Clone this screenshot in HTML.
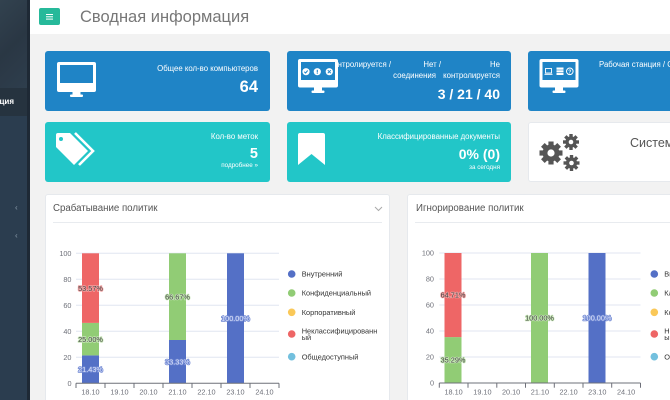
<!DOCTYPE html>
<html><head><meta charset="utf-8">
<style>
*{margin:0;padding:0;box-sizing:border-box}
html,body{width:670px;height:400px;overflow:hidden;background:#f2f2f2;font-family:"Liberation Sans","Noto Sans CJK SC",sans-serif}
#root{position:relative;width:670px;height:400px;overflow:hidden}
.a{position:absolute;white-space:nowrap;line-height:1}
.card{position:absolute;border-radius:3px}
.blue{background:#1f84c6}
.teal{background:#22c6c8}
.w{color:#fff}
.r{text-align:right}
</style></head><body><div id="root">
<!-- sidebar -->
<div class="a" style="left:0;top:0;width:27px;height:400px;background:#2b3d4f"></div>
<div class="a" style="left:0;top:0;width:27px;height:88px;background:linear-gradient(135deg,#32424f 0%,#2a3744 50%,#2e3e4d 100%)"></div>
<div class="a" style="left:0;top:88px;width:27px;height:28px;background:#26333f"></div>
<div class="a" style="left:27px;top:0;width:3px;height:400px;background:#1e2935"></div>
<div class="a" style="left:0;top:98px;width:27px;height:12px;overflow:hidden"><div class="a w" style="right:13px;top:0;font-size:8px;font-weight:bold">ация</div></div>
<div class="a" style="left:15px;top:204px;font-size:8px;color:#8a9aab">‹</div>
<div class="a" style="left:15px;top:232px;font-size:8px;color:#8a9aab">‹</div>
<!-- header -->
<div class="a" style="left:30px;top:0;width:640px;height:34px;background:#fff"></div>
<div class="a" style="left:39px;top:8px;width:21px;height:17px;background:#26b99a;border-radius:2px"></div>
<div class="a" style="left:46px;top:13.5px;width:7px;height:1.3px;background:#fff;box-shadow:0 2.3px 0 #fff,0 4.6px 0 #fff"></div>
<div class="a" style="left:80px;top:9px;font-size:16.5px;color:#777">Сводная информация</div>

<!-- cards row 1 -->
<div class="card blue" style="left:45px;top:51px;width:225px;height:60px"></div>
<div class="card blue" style="left:287px;top:51px;width:224px;height:60px"></div>
<div class="card blue" style="left:528px;top:51px;width:142px;height:60px;border-radius:3px 0 0 3px"></div>
<!-- cards row 2 -->
<div class="card teal" style="left:45px;top:122px;width:225px;height:60px"></div>
<div class="card teal" style="left:287px;top:122px;width:224px;height:60px"></div>
<div class="card" style="left:528px;top:122px;width:142px;height:60px;background:#fff;border:1px solid #e6e9ed;border-right:none;border-radius:3px 0 0 3px"></div>

<!-- card texts -->
<div class="a w r" style="right:412px;top:64.5px;font-size:7.8px">Общее кол-во компьютеров</div>
<div class="a w r" style="right:412px;top:79px;font-size:16.5px;font-weight:bold">64</div>

<div class="a w r" style="right:279px;top:60.5px;font-size:7.8px">Контролируется /</div>
<div class="a w r" style="right:229px;top:60.5px;font-size:7.8px">Нет /</div>
<div class="a w r" style="right:170px;top:60.5px;font-size:7.8px">Не</div>
<div class="a w r" style="right:234px;top:71.5px;font-size:7.8px">соединения</div>
<div class="a w r" style="right:170px;top:71.5px;font-size:7.8px">контролируется</div>
<div class="a w r" style="right:170px;top:86.5px;font-size:14px;font-weight:bold">3 / 21 / 40</div>

<div class="a" style="left:590px;top:58px;width:80px;height:14px;overflow:hidden"><div class="a w" style="left:9px;top:2.5px;font-size:7.8px">Рабочая станция / Сервер</div></div>

<div class="a w r" style="right:412px;top:133px;font-size:7.8px">Кол-во меток</div>
<div class="a w r" style="right:412px;top:147px;font-size:14.5px;font-weight:bold">5</div>
<div class="a w r" style="right:412px;top:162.5px;font-size:6.3px">подробнее »</div>

<div class="a w r" style="right:170px;top:133px;font-size:7.8px">Классифицированные документы</div>
<div class="a w r" style="right:170px;top:147px;font-size:14px;font-weight:bold">0% (0)</div>
<div class="a w r" style="right:170px;top:164.5px;font-size:6.3px">за сегодня</div>

<div class="a" style="left:620px;top:134px;width:50px;height:18px;overflow:hidden"><div class="a" style="left:10px;top:2.5px;font-size:12.5px;color:#555">Системная информация</div></div>

<!-- panels -->
<div class="a" style="left:45px;top:194px;width:345px;height:220px;background:#fff;border:1px solid #e6e9ed;border-radius:3px"></div>
<div class="a" style="left:53px;top:222px;width:329px;height:1px;background:#e8ebef"></div>
<div class="a" style="left:53px;top:204px;font-size:9.7px;color:#555">Срабатывание политик</div>
<div class="a" style="left:407px;top:194px;width:263px;height:206px;background:#fff;border:1px solid #e6e9ed;border-right:none;border-bottom:none;border-radius:3px 0 0 0"></div>
<div class="a" style="left:415px;top:222px;width:255px;height:1px;background:#e8ebef"></div>
<div class="a" style="left:416px;top:204px;font-size:9.7px;color:#555">Игнорирование политик</div>

<svg class="a" style="left:0;top:0" width="670" height="400" viewBox="0 0 670 400" xmlns="http://www.w3.org/2000/svg" font-family="Liberation Sans, sans-serif">
  <!-- panel chevron -->
  <polyline points="375,207 378.5,210.5 382,207" fill="none" stroke="#aaa" stroke-width="1"/>
  <!-- monitor card1 -->
  <rect x="57" y="62" width="39" height="30" rx="2" fill="#fff"/>
  <rect x="60" y="65" width="33" height="18" fill="#1f84c6"/>
  <rect x="72.5" y="91" width="8" height="4" fill="#fff"/>
  <rect x="70" y="94.5" width="13" height="2.5" rx="1" fill="#fff"/>
  <!-- monitor card2 -->
  <rect x="298" y="59" width="40" height="28.5" rx="2" fill="#fff"/>
  <rect x="301" y="62" width="34" height="18" fill="#1f84c6"/>
  <rect x="314" y="87" width="8" height="4" fill="#fff"/>
  <rect x="311.5" y="90.5" width="13" height="2.5" rx="1" fill="#fff"/>
  <circle cx="306" cy="71.7" r="3.6" fill="#fff"/>
  <circle cx="317.3" cy="71.7" r="3.6" fill="#fff"/>
  <circle cx="329.3" cy="71.7" r="3.6" fill="#fff"/>
  <polyline points="304.3,71.8 305.6,73 307.7,70.5" fill="none" stroke="#1f84c6" stroke-width="1"/>
  <line x1="317.3" y1="69.8" x2="317.3" y2="72.6" stroke="#1f84c6" stroke-width="1.1"/>
  <line x1="317.3" y1="73.3" x2="317.3" y2="74" stroke="#1f84c6" stroke-width="1.1"/>
  <path d="M327.8 70.2 L330.8 73.2 M330.8 70.2 L327.8 73.2" stroke="#1f84c6" stroke-width="1"/>
  <!-- monitor card3 -->
  <rect x="539.5" y="59" width="39" height="28.5" rx="2" fill="#fff"/>
  <rect x="542.5" y="62" width="33" height="18" fill="#1f84c6"/>
  <rect x="555" y="87" width="8" height="4" fill="#fff"/>
  <rect x="552.5" y="90.5" width="13" height="2.5" rx="1" fill="#fff"/>
  <rect x="545.5" y="68.5" width="6" height="4.5" fill="none" stroke="#fff" stroke-width="0.9"/>
  <line x1="544.5" y1="74.3" x2="552.5" y2="74.3" stroke="#fff" stroke-width="1"/>
  <rect x="556.5" y="67.5" width="7" height="7.5" fill="#fff"/>
  <line x1="556.5" y1="70" x2="563.5" y2="70" stroke="#1f84c6" stroke-width="0.6"/>
  <line x1="556.5" y1="72.5" x2="563.5" y2="72.5" stroke="#1f84c6" stroke-width="0.6"/>
  <circle cx="569.8" cy="71.3" r="3.3" fill="none" stroke="#fff" stroke-width="1"/>
  <text x="569.8" y="73.3" font-size="5" fill="#fff" text-anchor="middle" font-weight="bold">?</text>
  <!-- tags -->
  <path d="M56 135 Q56 133 58 133 L70 133 L88 151 L74 165 L56 147 Z" fill="#fff"/>
  <circle cx="61" cy="139" r="2" fill="#22c6c8"/>
  <polyline points="75,133 93,151 79,165" fill="none" stroke="#fff" stroke-width="2.6"/>
  <!-- bookmark -->
  <path d="M300 133 L323 133 Q325 133 325 135 L325 165 L311.5 154 L298 165 L298 135 Q298 133 300 133 Z" fill="#fff"/>
  <!-- gears -->
  <g fill="#555">
    <g transform="translate(551,153)">
      <rect x="-2.6" y="-11.5" width="5.2" height="23" />
      <rect x="-2.6" y="-11.5" width="5.2" height="23" transform="rotate(45)"/>
      <rect x="-2.6" y="-11.5" width="5.2" height="23" transform="rotate(90)"/>
      <rect x="-2.6" y="-11.5" width="5.2" height="23" transform="rotate(135)"/>
      <circle r="8.5"/>
      <circle r="3.6" fill="#fff"/>
    </g>
    <g transform="translate(571,142)">
      <rect x="-1.7" y="-8" width="3.4" height="16"/>
      <rect x="-1.7" y="-8" width="3.4" height="16" transform="rotate(45)"/>
      <rect x="-1.7" y="-8" width="3.4" height="16" transform="rotate(90)"/>
      <rect x="-1.7" y="-8" width="3.4" height="16" transform="rotate(135)"/>
      <circle r="5.6"/>
      <circle r="2.3" fill="#fff"/>
    </g>
    <g transform="translate(571.5,163)">
      <rect x="-1.7" y="-8" width="3.4" height="16"/>
      <rect x="-1.7" y="-8" width="3.4" height="16" transform="rotate(45)"/>
      <rect x="-1.7" y="-8" width="3.4" height="16" transform="rotate(90)"/>
      <rect x="-1.7" y="-8" width="3.4" height="16" transform="rotate(135)"/>
      <circle r="5.6"/>
      <circle r="2.3" fill="#fff"/>
    </g>
  </g>

  <!-- CHART 1 -->
  <g stroke="#e0e6f1" stroke-width="1">
    <line x1="76" y1="253.3" x2="279" y2="253.3"/>
    <line x1="76" y1="279.3" x2="279" y2="279.3"/>
    <line x1="76" y1="305.3" x2="279" y2="305.3"/>
    <line x1="76" y1="331.3" x2="279" y2="331.3"/>
    <line x1="76" y1="357.3" x2="279" y2="357.3"/>
  </g>
  <g font-size="7.3" fill="#6e7079" text-anchor="end">
    <text x="71.5" y="255.8">100</text>
    <text x="71.5" y="281.8">80</text>
    <text x="71.5" y="307.8">60</text>
    <text x="71.5" y="333.8">40</text>
    <text x="71.5" y="359.8">20</text>
    <text x="71.5" y="385.8">0</text>
  </g>
  <rect x="82" y="355.4" width="17" height="27.9" fill="#5470c6"/>
  <rect x="82" y="322.9" width="17" height="32.5" fill="#91cc75"/>
  <rect x="82" y="253.3" width="17" height="69.6" fill="#ee6666"/>
  <rect x="169" y="340" width="17" height="43.3" fill="#5470c6"/>
  <rect x="169" y="253.3" width="17" height="86.7" fill="#91cc75"/>
  <rect x="227" y="253.3" width="17" height="130" fill="#5470c6"/>
  <g stroke="#6e7079" stroke-width="1">
    <line x1="76" y1="383.3" x2="279" y2="383.3"/>
    <line x1="76" y1="383.3" x2="76" y2="388"/>
    <line x1="105" y1="383.3" x2="105" y2="388"/>
    <line x1="134" y1="383.3" x2="134" y2="388"/>
    <line x1="163" y1="383.3" x2="163" y2="388"/>
    <line x1="192" y1="383.3" x2="192" y2="388"/>
    <line x1="221" y1="383.3" x2="221" y2="388"/>
    <line x1="250" y1="383.3" x2="250" y2="388"/>
    <line x1="279" y1="383.3" x2="279" y2="388"/>
  </g>
  <g font-size="7.3" fill="#6e7079" text-anchor="middle">
    <text x="90.5" y="394.5">18.10</text>
    <text x="119.5" y="394.5">19.10</text>
    <text x="148.5" y="394.5">20.10</text>
    <text x="177.5" y="394.5">21.10</text>
    <text x="206.5" y="394.5">22.10</text>
    <text x="235.5" y="394.5">23.10</text>
    <text x="264.5" y="394.5">24.10</text>
  </g>
  <g font-size="7.3" text-anchor="middle" stroke-width="1.6" paint-order="stroke" stroke-linejoin="round">
    <text x="90.5" y="372" fill="#dfe5fb" stroke="#6f87d2">21.43%</text>
    <text x="90.5" y="341.8" fill="#444" stroke="#c6e6b6">25.00%</text>
    <text x="90.5" y="290.8" fill="#444" stroke="#f3a3a3">53.57%</text>
    <text x="177.5" y="364.3" fill="#dfe5fb" stroke="#6f87d2">33.33%</text>
    <text x="177.5" y="299.3" fill="#444" stroke="#c6e6b6">66.67%</text>
    <text x="235.5" y="320.8" fill="#dfe5fb" stroke="#6f87d2">100.00%</text>
  </g>
  <!-- legend 1 -->
  <circle cx="291.7" cy="274" r="3.8" fill="#5470c6"/>
  <circle cx="291.7" cy="293" r="3.8" fill="#91cc75"/>
  <circle cx="291.7" cy="312.3" r="3.8" fill="#fac858"/>
  <circle cx="291.7" cy="334" r="3.8" fill="#ee6666"/>
  <circle cx="291.7" cy="356.7" r="3.8" fill="#73c0de"/>
  <g font-size="7.4" fill="#333">
    <text x="301.7" y="276.7">Внутренний</text>
    <text x="301.7" y="295.7">Конфиденциальный</text>
    <text x="301.7" y="315">Корпоративный</text>
    <text x="301.7" y="333.3">Неклассифицированн</text>
    <text x="301.7" y="340">ый</text>
    <text x="301.7" y="359.4">Общедоступный</text>
  </g>

  <!-- CHART 2 -->
  <g stroke="#e0e6f1" stroke-width="1">
    <line x1="439.3" y1="253" x2="640.5" y2="253"/>
    <line x1="439.3" y1="279" x2="640.5" y2="279"/>
    <line x1="439.3" y1="305" x2="640.5" y2="305"/>
    <line x1="439.3" y1="331" x2="640.5" y2="331"/>
    <line x1="439.3" y1="357" x2="640.5" y2="357"/>
  </g>
  <g font-size="7.3" fill="#6e7079" text-anchor="end">
    <text x="434" y="255.5">100</text>
    <text x="434" y="281.5">80</text>
    <text x="434" y="307.5">60</text>
    <text x="434" y="333.5">40</text>
    <text x="434" y="359.5">20</text>
    <text x="434" y="385.5">0</text>
  </g>
  <rect x="444.5" y="337.1" width="17" height="45.9" fill="#91cc75"/>
  <rect x="444.5" y="253" width="17" height="84.1" fill="#ee6666"/>
  <rect x="531" y="253" width="17" height="130" fill="#91cc75"/>
  <rect x="588.5" y="253" width="17" height="130" fill="#5470c6"/>
  <g stroke="#6e7079" stroke-width="1">
    <line x1="439.3" y1="383" x2="640.5" y2="383"/>
    <line x1="439.3" y1="383" x2="439.3" y2="387.7"/>
    <line x1="468" y1="383" x2="468" y2="387.7"/>
    <line x1="496.8" y1="383" x2="496.8" y2="387.7"/>
    <line x1="525.5" y1="383" x2="525.5" y2="387.7"/>
    <line x1="554.3" y1="383" x2="554.3" y2="387.7"/>
    <line x1="583" y1="383" x2="583" y2="387.7"/>
    <line x1="611.7" y1="383" x2="611.7" y2="387.7"/>
    <line x1="640.5" y1="383" x2="640.5" y2="387.7"/>
  </g>
  <g font-size="7.3" fill="#6e7079" text-anchor="middle">
    <text x="453.6" y="394.3">18.10</text>
    <text x="482.4" y="394.3">19.10</text>
    <text x="511.1" y="394.3">20.10</text>
    <text x="539.9" y="394.3">21.10</text>
    <text x="568.6" y="394.3">22.10</text>
    <text x="597.3" y="394.3">23.10</text>
    <text x="626.1" y="394.3">24.10</text>
  </g>
  <g font-size="7.3" text-anchor="middle" stroke-width="1.6" paint-order="stroke" stroke-linejoin="round">
    <text x="453" y="297.6" fill="#444" stroke="#f3a3a3">64.71%</text>
    <text x="453" y="362.6" fill="#444" stroke="#c6e6b6">35.29%</text>
    <text x="539.5" y="320.5" fill="#444" stroke="#c6e6b6">100.00%</text>
    <text x="597" y="320.5" fill="#dfe5fb" stroke="#6f87d2">100.00%</text>
  </g>
  <circle cx="654.3" cy="274" r="3.8" fill="#5470c6"/>
  <circle cx="654.3" cy="293" r="3.8" fill="#91cc75"/>
  <circle cx="654.3" cy="312.3" r="3.8" fill="#fac858"/>
  <circle cx="654.3" cy="334" r="3.8" fill="#ee6666"/>
  <circle cx="654.3" cy="356.7" r="3.8" fill="#73c0de"/>
  <g font-size="7.4" fill="#333">
    <text x="664.3" y="276.7">Вн</text>
    <text x="664.3" y="295.7">Кл</text>
    <text x="664.3" y="315">Ко</text>
    <text x="664.3" y="333.3">Не</text>
    <text x="664.3" y="340">ы</text>
    <text x="664.3" y="359.4">О</text>
  </g>
</svg>
</div></body></html>
